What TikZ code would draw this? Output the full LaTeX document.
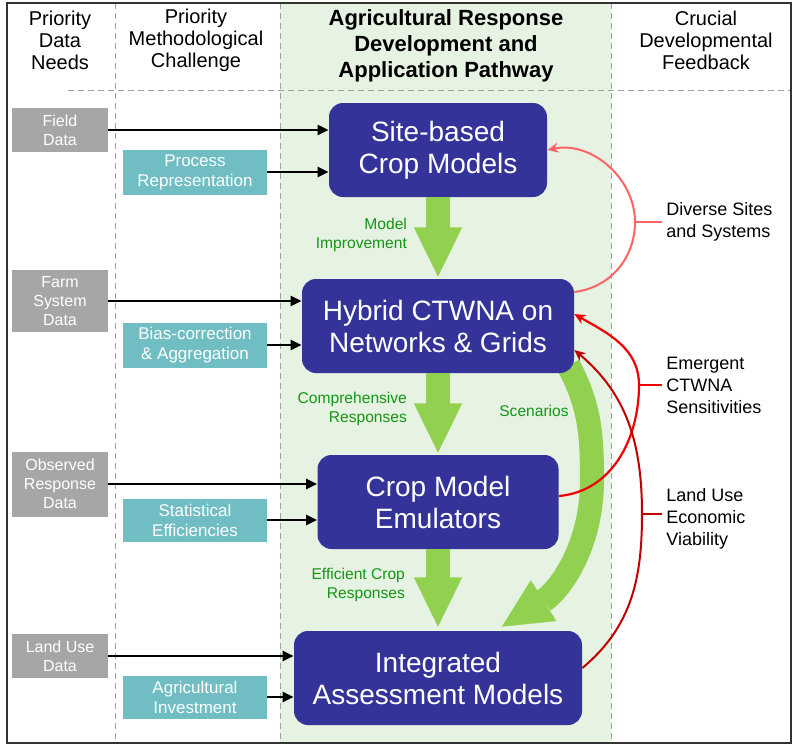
\documentclass[tikz,border=0pt]{standalone}
\usepackage{fontspec}
\setmainfont{Liberation Sans}
\usepackage{tikz}
\usetikzlibrary{arrows.meta}
\pgfdeclarelayer{under}
\pgfdeclarelayer{ground}
\pgfsetlayers{ground,under,main}
\definecolor{pathblue}{RGB}{51,51,153}
\definecolor{leafgreen}{RGB}{146,208,80}
\definecolor{labelgreen}{RGB}{20,150,20}
\definecolor{paleback}{RGB}{230,242,226}
\definecolor{datagray}{RGB}{166,166,166}
\definecolor{methteal}{RGB}{112,190,196}
\definecolor{dashgray}{RGB}{160,160,160}
\definecolor{softred}{RGB}{255,100,100}
\definecolor{brightred}{RGB}{240,0,0}
\definecolor{darkred}{RGB}{192,0,0}

\begin{document}
\begin{tikzpicture}[x=0.5pt,y=-0.5pt,
    datanode/.style={fill=datagray, text=white, minimum width=48pt, inner sep=0pt, align=center, font=\fontsize{8}{9.5}\selectfont},
    challenge/.style={fill=methteal, text=white, minimum width=72pt, inner sep=0pt, align=center, font=\fontsize{8.5}{10}\selectfont},
    stage/.style={fill=pathblue, text=white, rounded corners=7pt, minimum height=47pt, inner sep=0pt, align=center, font=\fontsize{14}{16}\selectfont},
    colhead/.style={align=center, font=\fontsize{10}{11}\selectfont},
    flowlabel/.style={text=labelgreen, align=right, anchor=east, font=\fontsize{7.8}{9.5}\selectfont},
    feedlabel/.style={align=left, anchor=west, inner sep=2pt, font=\fontsize{9}{11}\selectfont},
    divider/.style={draw=dashgray, dash pattern=on 3pt off 2pt, line width=0.5pt},
    feed/.style={-{Triangle[length=5.5pt,width=5pt]}, line width=1.3pt},
    bigflow/.style={draw=leafgreen, line width=12pt, -{Triangle[length=24.5pt,width=24pt,line width=0.1pt]}},
    loopA/.style={draw=softred, line width=1pt, -{Stealth[length=5.5pt,width=5pt]}},
    loopB/.style={draw=brightred, line width=1.1pt, -{Stealth[length=5.5pt,width=5pt]}},
    loopC/.style={draw=darkred, line width=1pt, -{Stealth[length=5.5pt,width=5pt]}}]
\useasboundingbox (0,0) rectangle (800,750);

% columns
\begin{pgfonlayer}{ground}
\fill[paleback] (280,3) rectangle (611,743);
\draw[divider] (115,3) -- (115,743);
\draw[divider] (280,3) -- (280,743);
\draw[divider] (611,3) -- (611,743);
\draw[divider] (68,90) -- (791,90);
\draw[line width=1.2pt, black!80] (7,3) rectangle (791,743);
\end{pgfonlayer}

\node[colhead] (hneeds) at (60,40) {Priority\\Data\\Needs};
\node[colhead] (hchall) at (196,40) {Priority\\Methodological\\Challenge};
\node[colhead, font=\bfseries\fontsize{11}{13}\selectfont] (hpath) at (446,46) {Agricultural Response\\Development and\\Application Pathway};
\node[colhead] (hfeed) at (706,40) {Crucial\\Developmental\\Feedback};

% data needs
\node[datanode, minimum height=22pt] (field) at (60,130) {Field\\Data};
\node[datanode, minimum height=31pt] (farm) at (60,301) {Farm\\System\\Data};
\node[datanode, minimum height=32.5pt] (observed) at (60,484) {Observed\\Response\\Data};
\node[datanode, minimum height=22pt] (landuse) at (60,656) {Land Use\\Data};

% methodological challenges
\node[challenge, minimum height=22.5pt] (process) at (195,172) {Process\\Representation};
\node[challenge, minimum height=22.5pt] (bias) at (195,345) {Bias-correction\\\& Aggregation};
\node[challenge, minimum height=21.5pt] (stats) at (195,520) {Statistical\\Efficiencies};
\node[challenge, minimum height=21.5pt] (invest) at (195,697) {Agricultural\\Investment};

% pathway
\node[stage, minimum width=109pt] (site) at (438,150) {Site-based\\Crop Models};
\node[stage, minimum width=136pt] (hybrid) at (438,326) {Hybrid CTWNA on\\Networks \& Grids};
\node[stage, minimum width=120.5pt] (emu) at (438,502) {Crop Model\\Emulators};
\node[stage, minimum width=144pt] (iam) at (438,678) {Integrated\\Assessment Models};

\coordinate (scenbend) at (592,480);
\begin{pgfonlayer}{under}
\draw[bigflow] ([xshift=-3pt,yshift=4pt]hybrid.south east) to[out=-62,in=90] (scenbend) to[out=-90,in=32] ([xshift=32pt,yshift=2pt]iam.north);
\end{pgfonlayer}

\draw[bigflow] (site.south) -- ([yshift=1pt]hybrid.north);
\draw[bigflow] (hybrid.south) -- ([yshift=1pt]emu.north);
\draw[bigflow] (emu.south) -- ([yshift=2pt]iam.north);

\node[flowlabel] (improve) at (414,235) {Model\\Improvement};
\node[flowlabel] (comprehensive) at (414,409) {Comprehensive\\Responses};
\node[flowlabel] (efficient) at (412,585) {Efficient Crop\\Responses};
\node[text=labelgreen, font=\fontsize{7.8}{9.5}\selectfont] (scen) at (534,411) {Scenarios};

% inputs
\draw[feed] (field.east) -- (field.east -| site.west);
\draw[feed] (process.east) -- (process.east -| site.west);
\draw[feed] (farm.east) -- (farm.east -| hybrid.west);
\draw[feed] (bias.east) -- (bias.east -| hybrid.west);
\draw[feed] (observed.east) -- (observed.east -| emu.west);
\draw[feed] (stats.east) -- (stats.east -| emu.west);
\draw[feed] (landuse.east) -- (landuse.east -| iam.west);
\draw[feed] (invest.east) -- (invest.east -| iam.west);

% feedback
\node[feedlabel] (sitesfb) at (662,222) {Diverse Sites\\and Systems};
\node[feedlabel] (sensfb) at (662,385) {Emergent\\CTWNA\\Sensitivities};
\node[feedlabel] (econfb) at (662,519) {Land Use\\Economic\\Viability};

\coordinate (siteloop) at (635,222);
\coordinate (sensloop) at (639,385);
\coordinate (econloop) at (642,514);
\draw[loopA] (hybrid.14) to[out=7,in=-90] (siteloop) to[out=90,in=12] (site.east);
\draw[loopA, arrows=-] (siteloop) -- (sitesfb.west);
\draw[loopB] ([yshift=3pt]emu.east) to[out=5,in=-90] (sensloop) to[out=90,in=-30] (hybrid.5);
\draw[loopB, arrows=-] (sensloop) -- (sensfb.west);
\draw[loopC] ([yshift=5pt]iam.east) to[out=40,in=-90] (econloop) to[out=90,in=-40] (hybrid.-10);
\draw[loopC, arrows=-] (econloop) -- (econloop -| econfb.west);
\end{tikzpicture}
\end{document}
